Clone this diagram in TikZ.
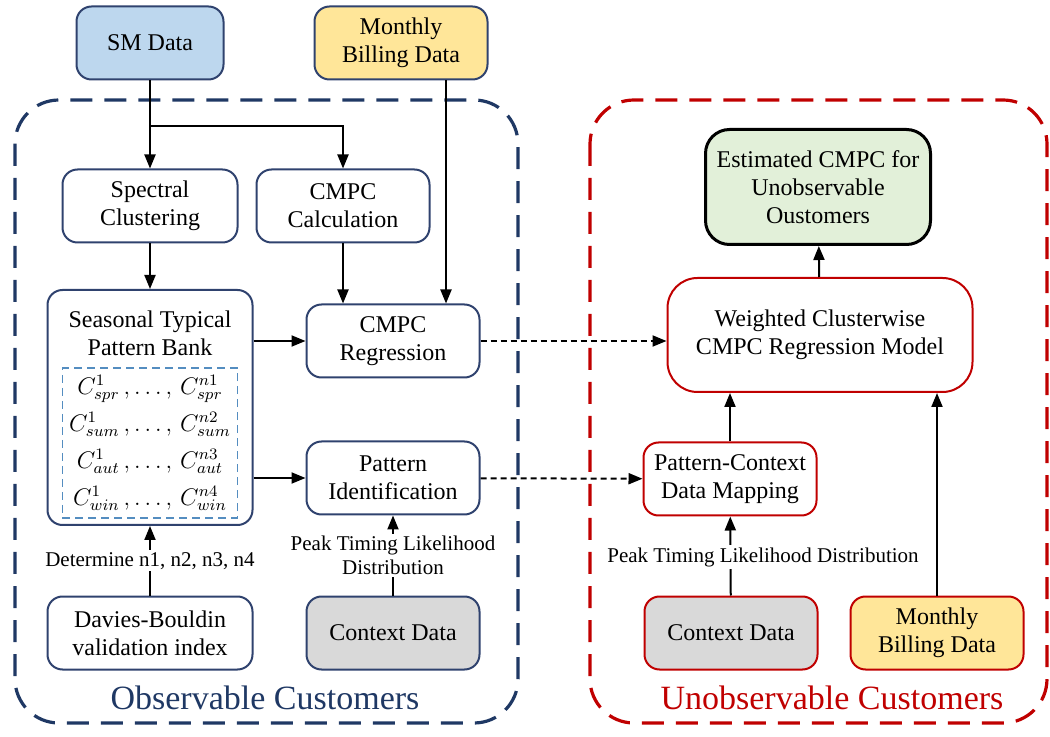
\documentclass[tikz,border=0pt]{standalone}
\usepackage{amsmath}
\usepackage{fontspec}
\setmainfont{Liberation Serif}
\usetikzlibrary{arrows.meta,positioning}
\definecolor{navy}{RGB}{31,56,100}
\definecolor{boxblue}{RGB}{47,66,110}
\definecolor{darkred}{RGB}{192,0,0}
\definecolor{smblue}{RGB}{189,215,238}
\definecolor{billyellow}{RGB}{255,230,153}
\definecolor{estgreen}{RGB}{226,240,217}
\definecolor{ctxgray}{RGB}{217,217,217}
\definecolor{bankdash}{RGB}{84,141,192}

\begin{document}
\begin{tikzpicture}[x=0.5pt,y=-0.5pt,
	box/.style={draw=boxblue,line width=1pt,rounded corners=7.5pt,align=center,minimum width=86.5pt,minimum height=36.5pt,inner sep=2pt,font=\fontsize{12}{14}\selectfont},
	rbox/.style={box,draw=darkred},
	flow/.style={-{Triangle[length=7pt,width=5.5pt]},line width=1pt},
	link/.style={flow,dash pattern=on 3pt off 2pt},
	group/.style={line width=1.6pt,dash pattern=on 11pt off 6pt,rounded corners=22pt},
	lab/.style={fill=white,inner sep=1pt,align=center,font=\fontsize{10.5}{12}\selectfont},
	title/.style={font=\fontsize{17}{20}\selectfont}]
		\useasboundingbox (0,0) rectangle (1050,737);
		% customer groups
		\draw[group,draw=navy] (15,100) rectangle (518,723);
		\draw[group,draw=darkred] (590,100) rectangle (1047,723);
		\node[title,text=navy](obs) at (265,698) {Observable Customers};
		\node[title,text=darkred](unobs) at (832,698) {Unobservable Customers};
		% observable side
		\node[box,fill=smblue,minimum width=73.5pt](sm) at (150,43) {SM Data};
		\node[box,fill=billyellow](bill) at (401,43) {Monthly\\Billing Data};
		\node[box,minimum width=87.5pt](spec) at (150,206) {Spectral\\Clustering};
		\node[box](calc) at (343,206) {CMPC\\Calculation};
		\node[box,minimum width=102.5pt,minimum height=117.5pt](bank) at (150,407.5) {};
		\node[align=center,font=\fontsize{12}{14}\selectfont](banktitle) at (150,333) {Seasonal Typical\\Pattern Bank};
		\node[draw=bankdash,line width=0.8pt,dash pattern=on 4pt off 2.5pt,minimum width=87pt,minimum height=75pt,align=center,font=\fontsize{11.5}{18.5}\selectfont](set) at (150,443)
			{$C^{1}_{spr}\,,\ldots,\,C^{n1}_{spr}$\\$C^{1}_{sum}\,,\ldots,\,C^{n2}_{sum}$\\$C^{1}_{aut}\,,\ldots,\,C^{n3}_{aut}$\\$C^{1}_{win}\,,\ldots,\,C^{n4}_{win}$};
		\node[box](reg) at (393,341) {CMPC\\Regression};
		\node[box](ident) at (393,478) {Pattern\\Identification};
		\node[box,minimum width=102.5pt](db) at (150,633) {Davies-Bouldin\\validation index};
		\node[box,fill=ctxgray](ctx) at (393,633) {Context Data};
		% unobservable side
		\node[box,draw=black,line width=1.5pt,fill=estgreen,minimum width=112.5pt,minimum height=57.5pt,rounded corners=12pt](est) at (818,187) {Estimated CMPC for\\Unobservable\\Oustomers};
		\node[rbox,minimum width=152.5pt,minimum height=57pt,rounded corners=15pt](wcr) at (820,335) {Weighted Clusterwise\\CMPC Regression Model};
		\node[rbox](map) at (730,479) {Pattern-Context\\Data Mapping};
		\node[rbox,fill=ctxgray](ctx2) at (731,633) {Context Data};
		\node[rbox,fill=billyellow](bill2) at (937,633) {Monthly\\Billing Data};
		% connectors
		\coordinate (split) at (150,126);
		\draw[flow] (sm) -- (spec);
		\draw[flow] (split) -| (calc.north);
		\draw[flow] ([xshift=22.5pt]bill.south) -- ([xshift=22.5pt]bill.south |- reg.north);
		\draw[flow] (spec) -- (bank);
		\draw[flow] (calc) -- (calc |- reg.north);
		\draw[flow] (bank.east |- reg) -- (reg);
		\draw[flow] (bank.east |- ident) -- (ident);
		\draw[flow] (db) -- (bank) node[lab,midway] {Determine n1, n2, n3, n4};
		\draw[flow] (ctx) -- (ident) node[lab,midway] {Peak Timing Likelihood\\Distribution};
		\draw[link] (reg.east) -- (reg.east -| wcr.west);
		\draw[link] (ident) -- (map);
		\draw[flow] (map) -- (map |- wcr.south);
		\draw[flow] (bill2) -- (bill2 |- wcr.south);
		\draw[flow] (wcr) -- (est);
		\draw[flow] (ctx2) -- (map);
		\node[lab](peak) at (763,557) {Peak Timing Likelihood Distribution};
\end{tikzpicture}
\end{document}
